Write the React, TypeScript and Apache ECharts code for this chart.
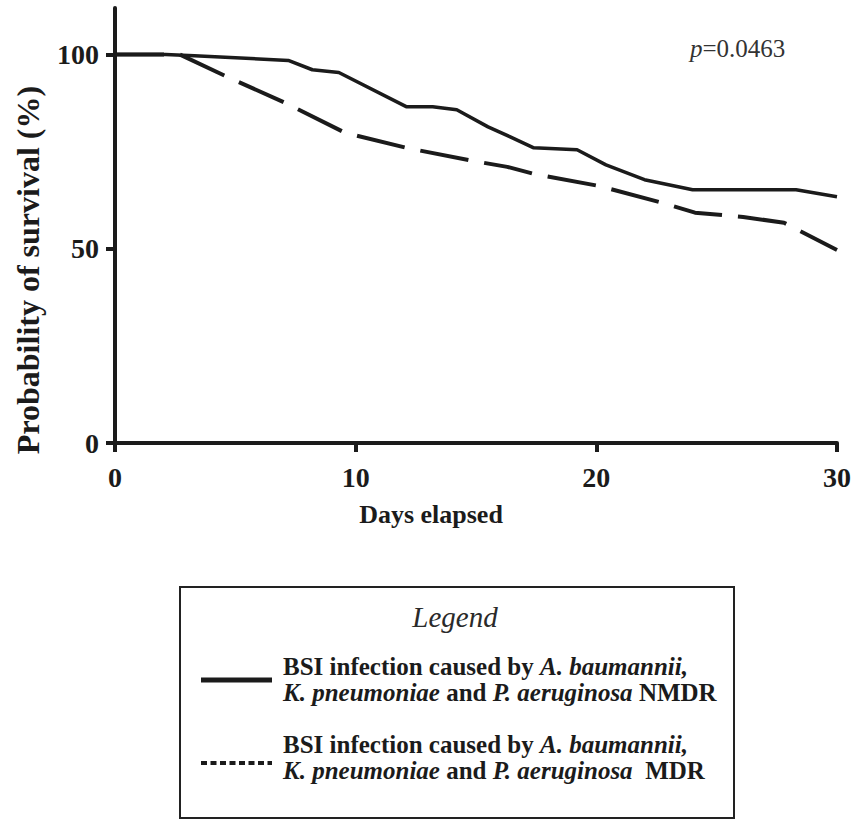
import React, { useEffect, useRef } from "react";
import * as echarts from "echarts";

// Kaplan–Meier style survival curves
const nmdrDays = [0, 2.1, 3.3, 7.2, 8.2, 9.3, 12.1, 13.2, 14.2, 15.5, 16.4, 17.4, 19.2, 20.4, 22.0, 24.0, 28.3, 30.0];
const nmdrSurvival = [100, 100, 99.7, 98.5, 96.1, 95.4, 86.6, 86.6, 85.8, 81.4, 78.9, 76.0, 75.5, 71.6, 67.8, 65.2, 65.2, 63.4];

const mdrDays = [0, 2.7, 4.65, 7.06, 9.55, 12.1, 14.8, 16.3, 17.4, 20.1, 22.7, 24.1, 26.1, 27.8, 30.0];
const mdrSurvival = [100, 100, 94.3, 87.6, 79.9, 76.0, 72.7, 71.1, 69.3, 66.2, 61.9, 59.3, 58.2, 56.7, 49.7];

const xTicks = [0, 10, 20, 30];
const yTicks = [0, 50, 100];

const seriesNames = ["NMDR", "MDR"];
const pValueText = "=0.0463";

const INK = "#1b1b1b";
const SERIF = "'Liberation Serif', 'Times New Roman', serif";

export default function App() {
  const ref = useRef<HTMLDivElement>(null);

  useEffect(() => {
    if (!ref.current) return;
    const chart = echarts.init(ref.current, undefined, { renderer: "svg" });

    const nmdrData = nmdrDays.map((d, i) => [d, nmdrSurvival[i]]);
    const mdrData = mdrDays.map((d, i) => [d, mdrSurvival[i]]);

    const legendRich = {
      b: { fontFamily: SERIF, fontWeight: "bold", fontSize: 25, lineHeight: 25, fill: INK, color: INK },
      bi: { fontFamily: SERIF, fontWeight: "bold", fontStyle: "italic", fontSize: 25, lineHeight: 25, fill: INK, color: INK },
    };

    chart.setOption({
      animation: false,
      backgroundColor: "#ffffff",
      grid: { left: 115, right: 18, top: 8, bottom: 377, containLabel: false },
      xAxis: {
        type: "value",
        min: 0,
        max: 30,
        interval: 10,
        axisLine: { show: true, lineStyle: { color: INK, width: 4 } },
        axisTick: { show: true, inside: false, length: 9, lineStyle: { color: INK, width: 4 }, customValues: xTicks },
        axisLabel: {
          show: true,
          margin: 20,
          fontFamily: SERIF,
          fontWeight: "bold",
          fontSize: 28,
          color: INK,
          customValues: xTicks,
        },
        splitLine: { show: false },
      },
      yAxis: {
        type: "value",
        min: 0,
        max: 112,
        axisLine: { show: true, lineStyle: { color: INK, width: 4 } },
        axisTick: { show: true, inside: false, length: 9, lineStyle: { color: INK, width: 4 }, customValues: yTicks },
        axisLabel: {
          show: true,
          margin: 16,
          fontFamily: SERIF,
          fontWeight: "bold",
          fontSize: 28,
          color: INK,
          customValues: yTicks,
        },
        splitLine: { show: false },
      },
      series: [
        {
          name: seriesNames[0],
          type: "line",
          data: nmdrData,
          showSymbol: false,
          symbol: "none",
          lineStyle: { color: INK, width: 3.5, type: "solid" },
          z: 3,
        },
        {
          name: seriesNames[1],
          type: "line",
          data: mdrData,
          showSymbol: false,
          symbol: "none",
          lineStyle: { color: INK, width: 4, type: [49, 16], cap: "butt" },
          z: 2,
        },
      ],
      graphic: [
        {
          type: "text",
          x: 28,
          y: 270,
          rotation: Math.PI / 2,
          style: {
            text: "Probability of survival (%)",
            fontFamily: SERIF,
            fontWeight: "bold",
            fontSize: 32,
            fill: INK,
            align: "center",
            verticalAlign: "middle",
          },
        },
        {
          type: "text",
          x: 431,
          y: 514,
          style: {
            text: "Days elapsed",
            fontFamily: SERIF,
            fontWeight: "bold",
            fontSize: 26,
            fill: INK,
            align: "center",
            verticalAlign: "middle",
          },
        },
        {
          type: "text",
          x: 690,
          y: 48,
          style: {
            text: "{i|p}{r|" + pValueText + "}",
            verticalAlign: "middle",
            rich: {
              i: { fontFamily: SERIF, fontStyle: "italic", fontSize: 25, fill: "#333", color: "#333" },
              r: { fontFamily: SERIF, fontSize: 25, fill: "#333", color: "#333" },
            },
          },
        },
        // Legend box
        {
          type: "rect",
          shape: { x: 180, y: 587, width: 554, height: 231 },
          style: { fill: "none", stroke: "#222", lineWidth: 2 },
        },
        {
          type: "text",
          x: 455,
          y: 617,
          style: {
            text: "Legend",
            fontFamily: SERIF,
            fontStyle: "italic",
            fontSize: 29,
            fill: "#2a2a2a",
            align: "center",
            verticalAlign: "middle",
          },
        },
        {
          type: "line",
          shape: { x1: 201, y1: 680, x2: 272, y2: 680 },
          style: { stroke: INK, lineWidth: 5 },
        },
        {
          type: "text",
          x: 283,
          y: 666,
          style: {
            text: "{b|BSI infection caused by }{bi|A. baumannii,}",
            verticalAlign: "middle",
            rich: legendRich,
          },
        },
        {
          type: "text",
          x: 283,
          y: 692,
          style: {
            text: "{bi|K. pneumoniae}{b| and }{bi|P. aeruginosa}{b| NMDR}",
            verticalAlign: "middle",
            rich: legendRich,
          },
        },
        {
          type: "line",
          shape: { x1: 201, y1: 763, x2: 272, y2: 763 },
          style: { stroke: INK, lineWidth: 4, lineDash: [6, 3.5] },
        },
        {
          type: "text",
          x: 283,
          y: 744,
          style: {
            text: "{b|BSI infection caused by }{bi|A. baumannii,}",
            verticalAlign: "middle",
            rich: legendRich,
          },
        },
        {
          type: "text",
          x: 283,
          y: 770,
          style: {
            text: "{bi|K. pneumoniae}{b| and }{bi|P. aeruginosa}{b|  MDR}",
            verticalAlign: "middle",
            rich: legendRich,
          },
        },
      ],
    });

    return () => chart.dispose();
  }, []);

  return (
    <div
      ref={ref}
      style={{ position: "fixed", left: 0, top: 0, width: 855, height: 820, background: "#fff" }}
    />
  );
}
